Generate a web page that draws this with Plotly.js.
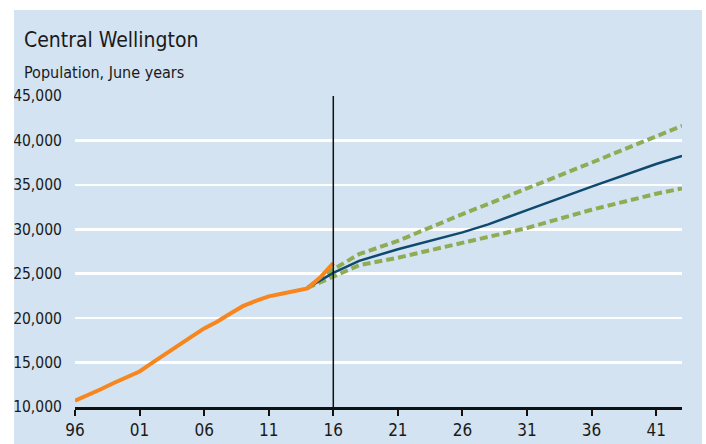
<!DOCTYPE html>
<html>
<head>
<meta charset="utf-8">
<script src="https://cdn.plot.ly/plotly-3.0.1.min.js"></script>
<style>
  html, body { margin: 0; padding: 0; background: #ffffff; width: 706px; height: 444px; overflow: hidden; }
  #chart { position: absolute; left: 14px; top: 10px; width: 688px; height: 434px; }
</style>
</head>
<body>
<div id="chart"></div>
<script>
// Historical estimates (June years)
const histYears = [1996,1997,1998,1999,2000,2001,2002,2003,2004,2005,2006,2007,2008,2009,2010,2011,2012,2013,2014,2015,2016];
const histPop   = [10700,11300,12000,12700,13300,14000,15000,16000,17000,17900,18850,19600,20500,21350,21950,22450,22750,23050,23350,24600,26200];

// Projections
const projYears  = [2014,2016,2018,2021,2026,2028,2031,2036,2041,2043];
const projMedium = [23400,25100,26450,27750,29650,30550,32150,34800,37350,38250];
const projHigh   = [23400,25500,27200,28700,31700,32900,34600,37500,40450,41650];
const projLow    = [23400,24700,25950,26800,28450,29100,30150,32200,34000,34600];

const xTickVals = [1996,2001,2006,2011,2016,2021,2026,2031,2036,2041];
const xTickText = ['96','01','06','11','16','21','26','31','36','41'];
const yTickVals = [10000,15000,20000,25000,30000,35000,40000,45000];
const yTickText = ['10,000','15,000','20,000','25,000','30,000','35,000','40,000','45,000'];

const FONT = '"DejaVu Sans Condensed", "Liberation Sans Narrow", "Roboto", sans-serif';
const green = '#8fac55';

const traces = [
  { x: projYears, y: projHigh, mode: 'lines', line: { color: green, width: 4, dash: '8px,4px' }, hoverinfo: 'skip' },
  { x: projYears, y: projLow, mode: 'lines', line: { color: green, width: 4, dash: '8px,4px' }, hoverinfo: 'skip' },
  { x: projYears, y: projMedium, mode: 'lines', line: { color: '#0f4a6e', width: 2.5 }, hoverinfo: 'skip' },
  { x: histYears, y: histPop, mode: 'lines', line: { color: '#f7861e', width: 4 }, hoverinfo: 'skip' }
];

const layout = {
  width: 688, height: 434,
  margin: { l: 61, r: 20, t: 86, b: 37 },
  paper_bgcolor: '#d3e3f1',
  plot_bgcolor: '#d3e3f1',
  showlegend: false,
  font: { family: FONT, color: '#1a1a1a', size: 16 },
  xaxis: {
    range: [1996, 2043],
    tickvals: xTickVals, ticktext: xTickText,
    showgrid: false, zeroline: false,
    showline: true, linecolor: '#111111', linewidth: 2.5,
    ticks: 'outside', ticklen: 6, tickwidth: 2, tickcolor: '#111111',
    tickfont: { family: FONT, size: 17, color: '#1a1a1a' },
    fixedrange: true
  },
  yaxis: {
    range: [10000, 45000],
    tickvals: yTickVals, ticktext: yTickText,
    showgrid: true, gridcolor: '#ffffff', gridwidth: 2.5,
    zeroline: false, showline: false,
    ticks: 'outside', ticklen: 9, tickcolor: 'rgba(0,0,0,0)',
    tickfont: { family: FONT, size: 15.5, color: '#1a1a1a' },
    fixedrange: true
  },
  shapes: [
    { type: 'line', xref: 'x', yref: 'y', x0: 2016, x1: 2016, y0: 10000, y1: 45000,
      line: { color: '#111111', width: 1.5 }, layer: 'above' }
  ],
  annotations: [
    { text: 'Central Wellington', xref: 'paper', yref: 'paper', x: -0.0873, y: 1.0, yshift: 56,
      xanchor: 'left', yanchor: 'middle', showarrow: false,
      font: { family: FONT, size: 21, color: '#1a1a1a' } },
    { text: 'Population, June years', xref: 'paper', yref: 'paper', x: -0.0873, y: 1.0, yshift: 24,
      xanchor: 'left', yanchor: 'middle', showarrow: false,
      font: { family: FONT, size: 16, color: '#1a1a1a' } }
  ]
};

Plotly.newPlot('chart', traces, layout, { displayModeBar: false, staticPlot: true });
</script>
</body>
</html>
